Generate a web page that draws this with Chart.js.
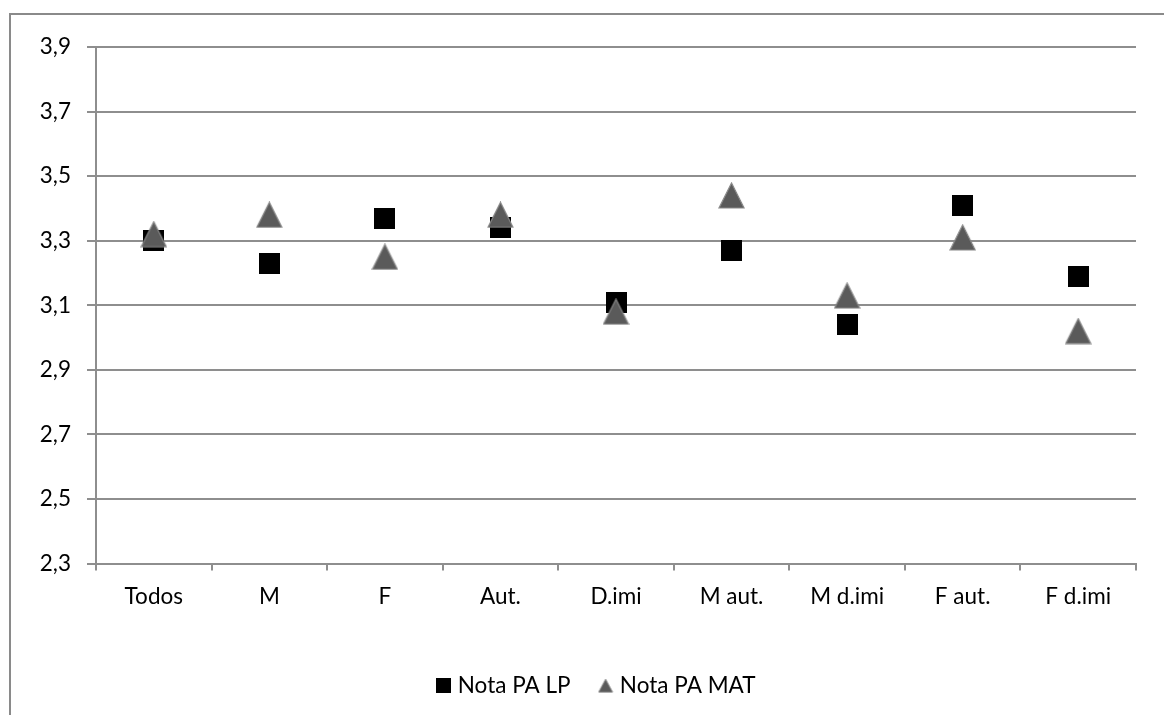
<!DOCTYPE html>
<html>
<head>
<meta charset="utf-8">
<script src="https://cdn.jsdelivr.net/npm/chart.js@4/dist/chart.umd.min.js"></script>
<style>
  html, body { margin: 0; padding: 0; background: #fff; }
  #wrap { width: 1164px; height: 715px; position: relative; }
</style>
</head>
<body>
<div id="wrap"><canvas id="c"></canvas></div>
<script>
// Data
const categories = ['Todos', 'M', 'F', 'Aut.', 'D.imi', 'M aut.', 'M d.imi', 'F aut.', 'F d.imi'];
const notaLP  = [3.30, 3.23, 3.37, 3.34, 3.11, 3.27, 3.04, 3.41, 3.19];
const notaMAT = [3.32, 3.38, 3.25, 3.38, 3.08, 3.44, 3.13, 3.31, 3.02];
const seriesNames = ['Nota PA LP', 'Nota PA MAT'];
const yMin = 2.3, yMax = 3.9, yStep = 0.2;

const FONT = 'Lato';
const FONT_SIZE = 22.5;
const GRID = '#8e8e8e';

// Marker images
function squareMarker(size, color) {
  const c = document.createElement('canvas');
  c.width = size; c.height = size;
  const g = c.getContext('2d');
  g.fillStyle = color;
  g.fillRect(0, 0, size, size);
  return c;
}
function triangleMarker(w, h, fill, stroke, lw) {
  const c = document.createElement('canvas');
  c.width = w + 2; c.height = h + 2;
  const g = c.getContext('2d');
  g.beginPath();
  g.moveTo((w + 2) / 2, 1);
  g.lineTo(w + 1, h + 1);
  g.lineTo(1, h + 1);
  g.closePath();
  g.fillStyle = fill;
  g.fill();
  g.strokeStyle = stroke;
  g.lineWidth = lw;
  g.stroke();
  return c;
}
const squarePt = squareMarker(21, '#000000');
const trianglePt = triangleMarker(25, 25, '#5a5a5a', '#878787', 1.2);
const squareLeg = squareMarker(15, '#000000');
const triangleLeg = triangleMarker(14, 13, '#5a5a5a', '#878787', 1);

// Frame around the chart, and the legend centred under the plot rather than the canvas
const framePlugin = {
  id: 'frame',
  afterLayout(chart) {
    if (chart.legend) {
      chart.legend.left += 30;
      chart.legend.right += 30;
    }
  },
  beforeDraw(chart) {
    const ctx = chart.ctx;
    ctx.save();
    ctx.fillStyle = '#ffffff';
    ctx.fillRect(0, 0, chart.width, chart.height);
    ctx.strokeStyle = '#8a8a8a';
    ctx.lineWidth = 2;
    ctx.beginPath();
    ctx.moveTo(10, chart.height);
    ctx.lineTo(10, 14);
    ctx.lineTo(chart.width, 14);
    ctx.stroke();
    ctx.restore();
  }
};

new Chart(document.getElementById('c'), {
  type: 'line',
  data: {
    labels: categories,
    datasets: [
      {
        label: seriesNames[0],
        data: notaLP,
        order: 1,            // drawn underneath the triangles
        showLine: false,
        pointStyle: squarePt,
        pointRadius: 10,
        backgroundColor: '#000',
        borderColor: '#000'
      },
      {
        label: seriesNames[1],
        data: notaMAT,
        order: 0,
        showLine: false,
        pointStyle: trianglePt,
        pointRadius: 12,
        backgroundColor: '#5a5a5a',
        borderColor: '#878787'
      }
    ]
  },
  options: {
    responsive: true,
    maintainAspectRatio: false,
    animation: false,
    events: [],
    layout: { padding: { top: 47, left: 0, right: 28, bottom: 8 } },
    scales: {
      x: {
        type: 'category',
        offset: true,
        afterFit(axis) { axis.height = 79; },
        grid: {
          offset: true,
          drawOnChartArea: false,
          drawTicks: true,
          tickLength: 7,
          color: GRID,
          lineWidth: 2
        },
        border: { display: true, color: GRID, width: 2 },
        ticks: {
          color: '#000',
          padding: 13,
          maxRotation: 0,
          autoSkip: false,
          font: { family: FONT, size: FONT_SIZE }
        }
      },
      y: {
        min: yMin,
        max: yMax,
        afterFit(axis) { axis.width = 96; },
        grid: {
          color: GRID,
          lineWidth: 2,
          drawTicks: true,
          tickLength: 9
        },
        border: { display: true, color: GRID, width: 2 },
        ticks: {
          stepSize: yStep,
          color: '#000',
          padding: 16,
          font: { family: FONT, size: FONT_SIZE },
          callback: (v) => Number(v).toFixed(1).replace('.', ',')
        }
      }
    },
    plugins: {
      tooltip: { enabled: false },
      legend: {
        position: 'bottom',
        labels: {
          usePointStyle: true,
          boxWidth: 6,
          padding: 32,
          color: '#000',
          font: { family: FONT, size: FONT_SIZE },
          generateLabels(chart) {
            const items = Chart.defaults.plugins.legend.labels.generateLabels(chart)
              .sort((a, b) => a.datasetIndex - b.datasetIndex);
            items[0].pointStyle = squareLeg;
            items[1].pointStyle = triangleLeg;
            return items;
          }
        }
      }
    }
  },
  plugins: [framePlugin]
});
</script>
</body>
</html>
